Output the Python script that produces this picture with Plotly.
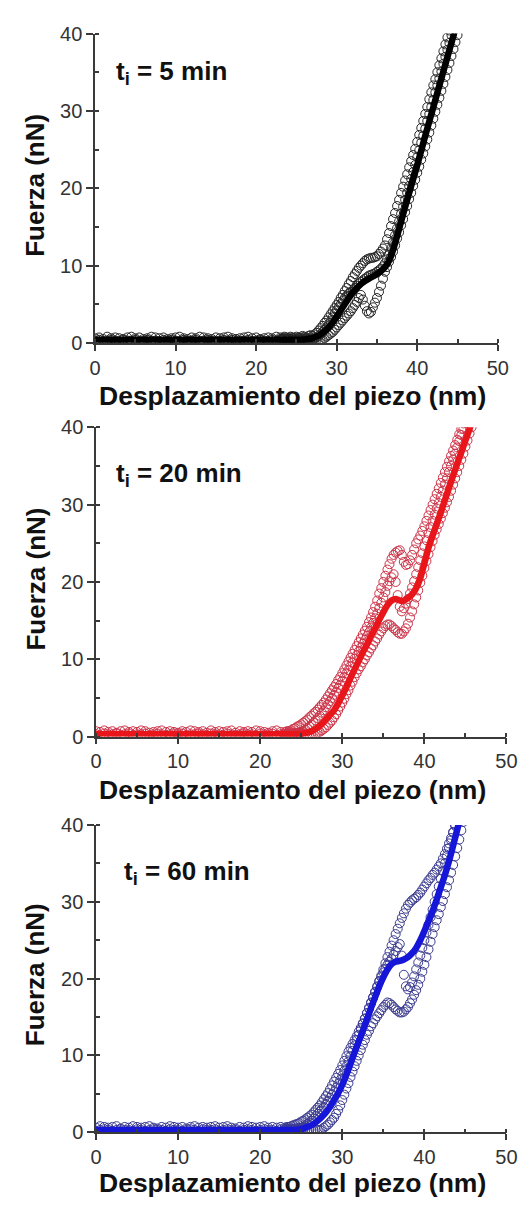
import plotly.graph_objects as go

# ---------------------------------------------------------------------------
# Data: force (nN) vs piezo displacement (nm) for three incubation times
# ---------------------------------------------------------------------------

# sampling positions of the contact region (nm)
X_RISE = [
    23.0, 23.25, 23.5, 23.75, 24.0, 24.25, 24.5, 24.75, 25.0, 25.25, 25.5, 25.75,
    26.0, 26.25, 26.5, 26.75, 27.0, 27.25, 27.5, 27.75, 28.0, 28.25, 28.5, 28.75,
    29.0, 29.25, 29.5, 29.75, 30.0, 30.25, 30.5, 30.75, 31.0, 31.25, 31.5, 31.75,
    32.0, 32.25, 32.5, 32.75, 33.0, 33.25, 33.5, 33.75, 34.0, 34.25, 34.5, 34.75,
    35.0, 35.25, 35.5, 35.75, 36.0, 36.25, 36.5, 36.75, 37.0, 37.25, 37.5, 37.75,
    38.0, 38.25, 38.5, 38.75, 39.0, 39.25, 39.5, 39.75, 40.0, 40.25, 40.5, 40.75,
    41.0, 41.25, 41.5, 41.75, 42.0, 42.25, 42.5, 42.75, 43.0, 43.25, 43.5, 43.75,
    44.0, 44.25, 44.5, 44.75, 45.0, 45.25, 45.5, 45.75,
]

# sampling positions of the non-contact baseline (nm)
X_BASE = [
    0.0, 0.5, 1.0, 1.5, 2.0, 2.5, 3.0, 3.5, 4.0, 4.5, 5.0, 5.5, 6.0, 6.5, 7.0, 7.5,
    8.0, 8.5, 9.0, 9.5, 10.0, 10.5, 11.0, 11.5, 12.0, 12.5, 13.0, 13.5, 14.0, 14.5,
    15.0, 15.5, 16.0, 16.5, 17.0, 17.5, 18.0, 18.5, 19.0, 19.5, 20.0, 20.5, 21.0,
    21.5, 22.0, 22.5,
]

# ---- t_i = 5 min ----------------------------------------------------------
BASE_5A = [0.6, 0.7, 0.5, 0.8, 0.6, 0.7, 0.6, 0.5, 0.7, 0.8, 0.6, 0.7, 0.5, 0.6, 0.8, 0.7,
           0.6, 0.7, 0.5, 0.6, 0.7, 0.8, 0.6, 0.5, 0.7, 0.6, 0.8, 0.7, 0.6, 0.5, 0.7, 0.6,
           0.7, 0.8, 0.6, 0.5, 0.6, 0.7, 0.8, 0.6, 0.7, 0.5, 0.6, 0.7, 0.6, 0.8]
BASE_5B = [0.3, 0.4, 0.2, 0.3, 0.4, 0.3, 0.2, 0.4, 0.3, 0.3, 0.4, 0.2, 0.3, 0.4, 0.3, 0.3,
           0.2, 0.4, 0.3, 0.4, 0.3, 0.2, 0.4, 0.3, 0.3, 0.4, 0.2, 0.3, 0.4, 0.3, 0.2, 0.3,
           0.4, 0.3, 0.4, 0.2, 0.3, 0.3, 0.4, 0.2, 0.3, 0.4, 0.3, 0.2, 0.4, 0.3]
RISE_5A = [
    0.7, 0.6, 0.8, 0.7, 0.6, 0.8, 0.7, 0.6, 0.8, 0.7, 0.7, 0.9,
    0.8, 0.7, 0.9, 1.0, 0.9, 1.1, 1.3, 1.6, 1.9, 2.2, 2.6, 2.9,
    3.3, 3.7, 4.1, 4.5, 4.9, 5.3, 5.8, 6.2, 6.7, 7.1, 7.6, 8.0,
    8.5, 8.9, 9.3, 9.7, 10.0, 10.3, 10.6, 10.8, 10.9, 11.0, 11.0, 11.1,
    11.2, 11.5, 11.8, 12.2, 12.6, 13.4, 14.2, 15.1, 16.0, 16.8, 17.7, 18.5,
    19.4, 20.2, 21.0, 21.8, 22.7, 23.5, 24.3, 25.1, 26.0, 26.9, 27.8, 28.7,
    29.6, 30.5, 31.5, 32.4, 33.3, 34.1, 35.0, 35.9, 36.8, 37.7, 38.6, 39.5,
    40.4, 41.3, 42.2, 43.1, 44.0, 44.9, 45.8, 46.7,
]
RISE_5B = [
    0.5, 0.4, 0.6, 0.5, 0.4, 0.5, 0.6, 0.4, 0.5, 0.6, 0.4, 0.5,
    0.6, 0.5, 0.5, 0.6, 0.5, 0.6, 0.7, 0.9, 1.1, 1.4, 1.7, 2.0,
    2.4, 2.8, 3.3, 3.8, 4.2, 4.6, 5.0, 5.4, 5.8, 6.1, 6.4, 6.6,
    6.8, 7.1, 7.4, 7.7, 7.9, 8.1, 8.3, 8.5, 8.7, 8.8, 8.9, 9.0,
    9.2, 9.4, 9.6, 9.9, 10.3, 10.8, 11.4, 12.2, 13.0, 13.9, 14.8, 15.7,
    16.7, 17.6, 18.5, 19.4, 20.3, 21.2, 22.1, 23.0, 24.0, 24.9, 25.9, 26.8,
    27.7, 28.7, 29.6, 30.5, 31.4, 32.4, 33.3, 34.2, 35.1, 36.1, 37.0, 37.9,
    38.8, 39.8, 40.7, 41.6, 42.5, 43.5, 44.4, 45.3,
]
RISE_5C = [
    0.4, 0.5, 0.3, 0.4, 0.5, 0.3, 0.4, 0.4, 0.3, 0.4, 0.5, 0.3,
    0.4, 0.4, 0.3, 0.4, 0.3, 0.4, 0.3, 0.3, 0.3, 0.4, 0.6, 0.8,
    1.0, 1.2, 1.4, 1.7, 2.0, 2.3, 2.6, 2.9, 3.2, 3.5, 3.8, 4.1,
    4.5, 4.9, 5.3, 5.8, 6.2, 5.6, 4.8, 4.1, 3.8, 4.0, 4.6, 5.2,
    5.8, 6.6, 7.4, 8.3, 9.2, 9.8, 10.5, 11.1, 11.8, 12.6, 13.5, 14.3,
    15.2, 16.0, 16.9, 17.7, 18.6, 19.4, 20.3, 21.1, 22.0, 22.8, 23.7, 24.5,
    25.4, 26.3, 27.2, 28.1, 29.0, 29.9, 30.8, 31.7, 32.6, 33.5, 34.4, 35.3,
    36.2, 37.1, 38.0, 38.9, 39.8, 40.7, 41.6, 42.5,
]
MEAN_5_X = [0, 5, 10, 15, 20, 25, 26, 27, 27.5, 28, 28.5, 29, 29.5, 30, 30.5, 31,
            31.5, 32, 32.5, 33, 33.5, 34, 34.5, 35, 35.5, 36, 36.5, 37, 37.5, 38,
            38.5, 39, 39.5, 40, 41, 42, 43, 44, 45, 46]
MEAN_5_Y = [0.4, 0.4, 0.4, 0.4, 0.4, 0.4, 0.45, 0.6, 0.8, 1.1, 1.5, 2.0, 2.6, 3.4, 4.2, 5.0,
            5.8, 6.5, 7.1, 7.6, 8.0, 8.3, 8.6, 8.9, 9.3, 9.8, 10.6, 12.0, 13.8, 15.7,
            17.6, 19.4, 21.2, 23.0, 26.8, 30.5, 34.2, 37.9, 41.6, 45.3]

# ---- t_i = 20 min ---------------------------------------------------------
BASE_20A = [0.7, 0.6, 0.8, 0.6, 0.7, 0.5, 0.7, 0.8, 0.6, 0.7, 0.6, 0.8, 0.7, 0.5, 0.6, 0.7,
            0.8, 0.6, 0.7, 0.6, 0.5, 0.7, 0.6, 0.8, 0.7, 0.6, 0.7, 0.5, 0.8, 0.6, 0.7, 0.6,
            0.7, 0.8, 0.5, 0.7, 0.6, 0.7, 0.6, 0.8, 0.7, 0.6, 0.5, 0.7, 0.8, 0.6]
BASE_20B = [0.3, 0.2, 0.4, 0.3, 0.3, 0.4, 0.2, 0.3, 0.4, 0.2, 0.3, 0.3, 0.4, 0.2, 0.3, 0.4,
            0.3, 0.2, 0.3, 0.4, 0.3, 0.4, 0.2, 0.3, 0.3, 0.4, 0.3, 0.2, 0.4, 0.3, 0.3, 0.2,
            0.4, 0.3, 0.2, 0.3, 0.4, 0.3, 0.3, 0.2, 0.4, 0.3, 0.3, 0.4, 0.2, 0.3]
RISE_20A = [
    0.6, 0.7, 0.7, 0.8, 1.0, 1.1, 1.3, 1.4, 1.6, 1.8, 2.0, 2.2,
    2.5, 2.7, 3.0, 3.2, 3.5, 3.8, 4.1, 4.4, 4.8, 5.2, 5.6, 6.0,
    6.4, 6.8, 7.3, 7.7, 8.2, 8.7, 9.2, 9.7, 10.2, 10.7, 11.2, 11.7,
    12.2, 12.7, 13.2, 13.7, 14.2, 14.8, 15.4, 16.1, 16.8, 17.6, 18.5, 19.2,
    20.0, 20.8, 21.6, 22.3, 23.0, 23.5, 23.8, 24.0, 24.1, 23.5, 22.6, 22.2,
    22.3, 22.8, 23.5, 24.2, 25.0, 25.5, 26.0, 26.6, 27.2, 27.9, 28.6, 29.3,
    30.0, 30.7, 31.4, 32.1, 32.8, 33.5, 34.2, 34.9, 35.6, 36.3, 37.0, 37.7,
    38.4, 39.1, 39.8, 40.5, 41.2, 41.9, 42.6, 43.3,
]
RISE_20B = [
    0.4, 0.3, 0.5, 0.4, 0.4, 0.5, 0.4, 0.5, 0.6, 0.7, 0.9, 1.1,
    1.3, 1.5, 1.8, 2.1, 2.4, 2.7, 3.1, 3.4, 3.8, 4.2, 4.6, 5.0,
    5.4, 5.8, 6.3, 6.7, 7.2, 7.7, 8.2, 8.6, 9.1, 9.6, 10.1, 10.5,
    11.0, 11.5, 12.0, 12.5, 13.0, 13.5, 14.1, 14.7, 15.3, 15.9, 16.6, 17.3,
    18.0, 18.7, 19.5, 20.1, 20.6, 21.0, 20.0, 18.3, 16.8, 16.2, 16.6, 17.2,
    17.8, 18.5, 19.3, 20.1, 21.0, 21.9, 22.8, 23.7, 24.6, 25.4, 26.3, 27.1,
    27.9, 28.7, 29.5, 30.2, 31.0, 31.8, 32.6, 33.4, 34.2, 35.0, 35.8, 36.6,
    37.4, 38.2, 39.0, 39.8, 40.6, 41.4, 42.2, 43.0,
]
RISE_20C = [
    0.3, 0.4, 0.3, 0.3, 0.4, 0.3, 0.3, 0.4, 0.3, 0.3, 0.4, 0.3,
    0.3, 0.4, 0.4, 0.4, 0.5, 0.6, 0.8, 1.0, 1.2, 1.5, 1.8, 2.1,
    2.5, 2.9, 3.4, 3.9, 4.4, 4.9, 5.5, 6.0, 6.6, 7.1, 7.7, 8.2,
    8.7, 9.1, 9.6, 10.0, 10.5, 10.9, 11.4, 11.8, 12.3, 12.7, 13.2, 13.6,
    14.0, 14.3, 14.5, 14.5, 14.3, 14.0, 13.8, 13.5, 13.3, 13.3, 13.6, 14.0,
    14.6, 15.4, 16.2, 17.1, 18.0, 18.9, 19.9, 20.8, 21.8, 22.7, 23.6, 24.5,
    25.3, 26.1, 26.8, 27.5, 28.2, 28.9, 29.6, 30.3, 31.0, 31.8, 32.6, 33.4,
    34.2, 35.0, 35.8, 36.6, 37.5, 38.3, 39.2, 40.0,
]
MEAN_20_X = [0, 5, 10, 15, 20, 24, 25, 25.5, 26, 26.5, 27, 27.5, 28, 28.5, 29, 29.5,
             30, 30.5, 31, 31.5, 32, 32.5, 33, 33.5, 34, 34.5, 35, 35.5, 36, 36.5,
             37, 37.5, 38, 38.5, 39, 39.5, 40, 40.5, 41, 42, 43, 44, 45, 46]
MEAN_20_Y = [0.3, 0.3, 0.3, 0.3, 0.3, 0.3, 0.35, 0.45, 0.6, 0.85, 1.2, 1.6, 2.2, 2.8, 3.4, 4.3,
             5.3, 6.4, 7.6, 8.7, 9.8, 10.9, 11.9, 13.0, 14.0, 15.1, 16.1, 17.0, 17.6, 17.8,
             17.6, 17.6, 17.9, 18.4, 19.2, 20.5, 22.4, 24.4, 26.0, 29.0, 32.2, 35.3, 38.3, 41.3]

# ---- t_i = 60 min ---------------------------------------------------------
BASE_60A = [0.6, 0.8, 0.7, 0.6, 0.7, 0.8, 0.5, 0.7, 0.6, 0.8, 0.7, 0.6, 0.7, 0.8, 0.6, 0.5,
            0.7, 0.6, 0.8, 0.7, 0.6, 0.7, 0.5, 0.7, 0.8, 0.6, 0.7, 0.6, 0.7, 0.8, 0.6, 0.7,
            0.8, 0.6, 0.5, 0.7, 0.6, 0.8, 0.7, 0.6, 0.7, 0.8, 0.6, 0.7, 0.6, 0.7]
BASE_60B = [0.2, 0.3, 0.4, 0.3, 0.2, 0.3, 0.4, 0.3, 0.3, 0.2, 0.4, 0.3, 0.2, 0.3, 0.4, 0.3,
            0.3, 0.2, 0.4, 0.3, 0.3, 0.2, 0.3, 0.4, 0.3, 0.2, 0.4, 0.3, 0.3, 0.4, 0.2, 0.3,
            0.4, 0.3, 0.3, 0.2, 0.3, 0.4, 0.3, 0.2, 0.3, 0.4, 0.3, 0.3, 0.2, 0.4]
RISE_60A = [
    0.6, 0.7, 0.7, 0.8, 0.9, 1.0, 1.1, 1.2, 1.4, 1.5, 1.7, 1.9,
    2.1, 2.3, 2.6, 2.9, 3.2, 3.5, 3.9, 4.3, 4.7, 5.1, 5.6, 6.1,
    6.6, 7.1, 7.6, 8.1, 8.7, 9.3, 9.9, 10.5, 11.0, 11.5, 12.0, 12.5,
    13.1, 13.6, 14.2, 14.8, 15.5, 16.1, 16.8, 17.5, 18.2, 18.9, 19.7, 20.4,
    21.2, 22.0, 22.8, 23.5, 24.3, 25.0, 25.8, 26.5, 27.2, 27.9, 28.5, 29.1,
    29.6, 29.9, 30.2, 30.4, 30.6, 30.9, 31.2, 31.6, 32.0, 32.4, 32.8, 33.1,
    33.5, 33.8, 34.2, 34.6, 35.0, 35.6, 36.2, 36.9, 37.6, 38.3, 39.1, 39.9,
    40.7, 41.5, 42.3, 43.1, 43.9, 44.7, 45.5, 46.3,
]
RISE_60B = [
    0.4, 0.5, 0.4, 0.4, 0.4, 0.5, 0.5, 0.6, 0.6, 0.7, 0.9, 1.1,
    1.3, 1.5, 1.8, 2.1, 2.4, 2.7, 3.0, 3.3, 3.7, 4.1, 4.5, 4.9,
    5.3, 5.8, 6.3, 6.8, 7.4, 8.0, 8.6, 9.2, 9.9, 10.6, 11.3, 12.0,
    12.7, 13.4, 14.1, 14.8, 15.5, 16.2, 16.9, 17.6, 18.3, 19.0, 19.6, 20.2,
    20.8, 21.3, 21.8, 22.2, 22.6, 23.1, 23.6, 24.1, 24.5, 23.0, 20.5, 19.0,
    18.6, 18.9, 19.5, 20.3, 21.2, 22.1, 23.0, 24.0, 25.0, 26.0, 27.0, 28.0,
    29.0, 30.0, 31.0, 32.0, 33.0, 34.0, 35.0, 36.0, 37.0, 38.0, 39.0, 40.0,
    41.0, 42.0, 43.0, 44.0, 45.0, 46.0, 47.0, 48.0,
]
RISE_60C = [
    0.3, 0.4, 0.3, 0.3, 0.4, 0.3, 0.3, 0.4, 0.3, 0.4, 0.3, 0.3,
    0.4, 0.3, 0.3, 0.4, 0.3, 0.3, 0.4, 0.6, 0.8, 1.0, 1.3, 1.6,
    1.9, 2.4, 2.9, 3.5, 4.2, 4.9, 5.7, 6.4, 7.2, 7.9, 8.6, 9.3,
    10.0, 10.7, 11.4, 12.0, 12.7, 13.2, 13.8, 14.2, 14.7, 15.1, 15.5, 15.9,
    16.3, 16.6, 16.9, 16.8, 16.6, 16.3, 16.0, 15.8, 15.6, 15.6, 15.7, 16.0,
    16.3, 16.8, 17.3, 17.9, 18.5, 19.2, 20.0, 20.9, 21.8, 22.8, 23.8, 24.8,
    25.8, 26.7, 27.6, 28.4, 29.3, 30.1, 31.0, 31.9, 32.8, 33.8, 34.8, 35.9,
    37.0, 38.1, 39.3, 40.4, 41.6, 42.7, 43.9, 45.0,
]
MEAN_60_X = [0, 5, 10, 15, 20, 24, 24.5, 25, 25.5, 26, 26.5, 27, 27.5, 28, 28.5, 29,
             29.5, 30, 30.5, 31, 31.5, 32, 32.5, 33, 33.5, 34, 34.5, 35, 35.5, 36,
             36.5, 37, 37.5, 38, 38.5, 39, 39.5, 40, 40.5, 41, 41.5, 42, 42.5, 43,
             43.5, 44, 44.5, 45]
MEAN_60_Y = [0.3, 0.3, 0.3, 0.3, 0.3, 0.3, 0.35, 0.4, 0.6, 0.8, 1.1, 1.5, 2.0, 2.6, 3.3, 4.2,
             5.1, 6.2, 7.5, 8.9, 10.4, 11.8, 13.2, 14.7, 16.2, 17.6, 19.0, 20.2, 21.2, 21.9,
             22.2, 22.3, 22.5, 22.8, 23.3, 24.0, 25.0, 26.2, 27.5, 28.8, 30.3, 31.9, 33.5,
             35.3, 37.3, 39.4, 41.5, 43.6]

TIME_LABELS = ["5", "20", "60"]
X_TICKS = [0, 10, 20, 30, 40, 50]
Y_TICKS = [0, 10, 20, 30, 40]

# ---------------------------------------------------------------------------
# Figure geometry and styling
# ---------------------------------------------------------------------------
W, H = 532, 1214
FONT = "Liberation Sans, Arial, sans-serif"
AXC = "#3a3a3a"

# box = (left, right, top, bottom) in pixels; tag = left edge / centre of the time label;
# ytitle = vertical centre of the y-axis title; xtitle = vertical centre of the x-axis title
PANELS = [
    dict(box=(92, 508, 23, 338), tag=(112, 63), ytitle=178, xtitle=392,
         base=(BASE_5A, BASE_5B), rise=(RISE_5A, RISE_5B, RISE_5C),
         mean=(MEAN_5_X, MEAN_5_Y), circ="#262626", line="#000000"),
    dict(box=(93, 517, 424, 739), tag=(112, 472), ytitle=579, xtitle=793,
         base=(BASE_20A, BASE_20B), rise=(RISE_20A, RISE_20B, RISE_20C),
         mean=(MEAN_20_X, MEAN_20_Y), circ="#cc3348", line="#e8161a"),
    dict(box=(93, 517, 829, 1142), tag=(120, 877), ytitle=982, xtitle=1194,
         base=(BASE_60A, BASE_60B), rise=(RISE_60A, RISE_60B, RISE_60C),
         mean=(MEAN_60_X, MEAN_60_Y), circ="#3c3c90", line="#1616d8"),
]


def pxx(v):
    return v / W


def pxy(v):
    return 1 - v / H


fig = go.Figure()
annotations = []

for i, p in enumerate(PANELS):
    n = 2 * i + 1
    xa = "x" if n == 1 else f"x{n}"
    ya = "y" if n == 1 else f"y{n}"
    xkey = "xaxis" if n == 1 else f"xaxis{n}"
    ykey = "yaxis" if n == 1 else f"yaxis{n}"
    left, right, top, bottom = p["box"]

    marker = dict(symbol="circle-open", size=9, color=p["circ"], line=dict(width=1))
    for ys in p["base"]:
        fig.add_trace(go.Scatter(x=X_BASE, y=ys, mode="markers", marker=marker,
                                 xaxis=xa, yaxis=ya, showlegend=False, hoverinfo="skip"))
    for ys in p["rise"]:
        fig.add_trace(go.Scatter(x=X_RISE, y=ys, mode="markers", marker=marker,
                                 xaxis=xa, yaxis=ya, showlegend=False, hoverinfo="skip"))
    mx, my = p["mean"]
    fig.add_trace(go.Scatter(x=mx, y=my, mode="lines",
                             line=dict(color=p["line"], width=6.5, shape="spline", smoothing=0.6),
                             xaxis=xa, yaxis=ya, showlegend=False, hoverinfo="skip"))

    xdom = [pxx(left), pxx(right)]
    ydom = [pxy(bottom), pxy(top)]
    common = dict(showline=True, linecolor=AXC, linewidth=1.5, showgrid=False,
                  zeroline=False, tickcolor=AXC, tickwidth=1.5, fixedrange=True)
    tickfont = dict(family=FONT, size=20, color="#333333")
    minor = dict(ticks="inside", ticklen=4, tickwidth=1.5, tickcolor=AXC,
                 tick0=0, dtick=5, showgrid=False)

    fig.update_layout(**{
        xkey: dict(domain=xdom, range=[0, 50], anchor=ya, side="bottom",
                   tickmode="array", tickvals=X_TICKS, ticktext=[str(v) for v in X_TICKS],
                   ticks="outside", ticklen=6, tickfont=tickfont, minor=minor, **common),
        f"xaxis{n + 1}": dict(range=[0, 50], anchor=ya, overlaying=xa, side="top",
                              tickmode="array", tickvals=X_TICKS, ticks="inside", ticklen=5,
                              showticklabels=False, minor=minor, **common),
        ykey: dict(domain=ydom, range=[0, 40], anchor=xa, side="left",
                   tickmode="array", tickvals=Y_TICKS, ticktext=[str(v) for v in Y_TICKS],
                   ticks="outside", ticklen=7, tickfont=tickfont, minor=minor, **common),
        f"yaxis{n + 1}": dict(range=[0, 40], anchor=xa, overlaying=ya, side="right",
                              tickmode="array", tickvals=Y_TICKS, ticks="inside", ticklen=5,
                              showticklabels=False, minor=minor, **common),
    })

    tx, ty = p["tag"]
    annotations.append(dict(
        text=f"<b>t<sub>i</sub> = {TIME_LABELS[i]} min</b>", xref="paper", yref="paper",
        x=pxx(tx), y=pxy(ty), xanchor="left", yanchor="middle", showarrow=False,
        font=dict(family=FONT, size=26, color="#111111")))
    annotations.append(dict(
        text="<b>Desplazamiento del piezo (nm)</b>", xref="paper", yref="paper",
        x=pxx(296), y=pxy(p["xtitle"]), xanchor="center", yanchor="middle", showarrow=False,
        borderpad=0, font=dict(family=FONT, size=26.5, color="#111111")))
    annotations.append(dict(
        text="<b>Fuerza (nN)</b>", xref="paper", yref="paper", textangle=-90,
        x=pxx(30), y=pxy(p["ytitle"]), xanchor="center", yanchor="middle",
        showarrow=False, font=dict(family=FONT, size=26, color="#111111")))

fig.update_layout(
    width=W, height=H, margin=dict(l=0, r=0, t=0, b=0),
    paper_bgcolor="white", plot_bgcolor="white", showlegend=False,
    annotations=annotations,
)

fig.write_html("out.html")
